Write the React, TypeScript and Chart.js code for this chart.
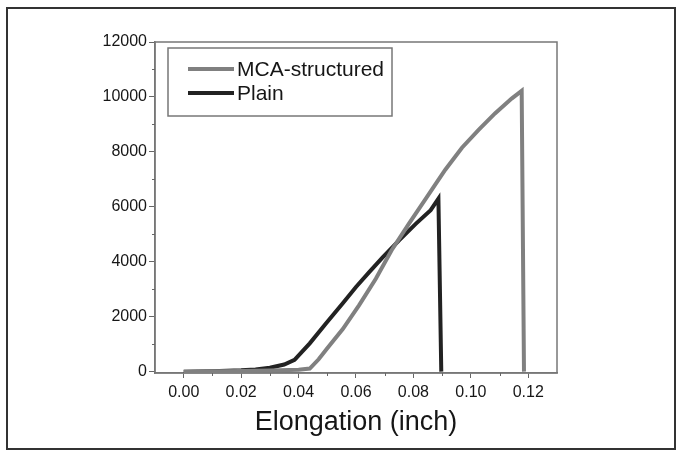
import React, { useEffect, useRef } from "react";
import { Chart, registerables } from "chart.js";

Chart.register(...registerables);

// ---- data ----
const seriesLabels = ["MCA-structured", "Plain"];

const mcaX = [0.0, 0.01, 0.02, 0.03, 0.04, 0.0439, 0.047, 0.05, 0.0554, 0.0611, 0.0669, 0.0724, 0.0785, 0.0842, 0.087, 0.0911, 0.0969, 0.1027, 0.1084, 0.1142, 0.1177, 0.1185];
const mcaY = [0, 10, 20, 40, 70, 110, 450, 850, 1550, 2420, 3380, 4420, 5400, 6280, 6720, 7350, 8150, 8800, 9400, 9940, 10220, 0];

const plainX = [0.0, 0.01, 0.02, 0.025, 0.03, 0.035, 0.0386, 0.0439, 0.0496, 0.0554, 0.06, 0.0646, 0.0692, 0.075, 0.0808, 0.086, 0.0887, 0.0897];
const plainY = [0, 15, 50, 80, 140, 260, 425, 1030, 1760, 2490, 3080, 3620, 4150, 4780, 5380, 5880, 6300, 0];

const xTicks = [0.0, 0.02, 0.04, 0.06, 0.08, 0.1, 0.12];
const xMinorTicks = [0.01, 0.03, 0.05, 0.07, 0.09, 0.11];
const yTicks = [0, 2000, 4000, 6000, 8000, 10000, 12000];
const yMinorTicks = [1000, 3000, 5000, 7000, 9000, 11000];

const xTitle = "Elongation (inch)";

const FONT = "'Liberation Sans', Arial, Helvetica, sans-serif";
const TEXT = "#161616";

const framePlugin = {
  id: "frameAndLegend",
  beforeDraw(chart: any) {
    const ctx = chart.ctx;
    ctx.save();
    ctx.fillStyle = "#ffffff";
    ctx.fillRect(0, 0, chart.width, chart.height);
    ctx.restore();
  },
  beforeDatasetsDraw(chart: any) {
    const { ctx, chartArea: a, scales } = chart;
    ctx.save();
    ctx.strokeStyle = "#777777";
    ctx.lineWidth = 1.5;
    ctx.strokeRect(a.left, a.top, a.right - a.left, a.bottom - a.top);
    // minor ticks
    ctx.lineWidth = 1;
    ctx.strokeStyle = "#666666";
    ctx.beginPath();
    yMinorTicks.forEach((v) => {
      const y = Math.round(scales.y.getPixelForValue(v)) + 0.5;
      ctx.moveTo(a.left, y);
      ctx.lineTo(a.left - 3, y);
    });
    xMinorTicks.forEach((v) => {
      const x = Math.round(scales.x.getPixelForValue(v)) + 0.5;
      ctx.moveTo(x, a.bottom);
      ctx.lineTo(x, a.bottom + 3);
    });
    ctx.stroke();
    ctx.restore();
  },
  afterDraw(chart: any) {
    const ctx = chart.ctx;
    ctx.save();
    // legend box
    const bx = 168, by = 48, bw = 224, bh = 68;
    ctx.strokeStyle = "#777777";
    ctx.lineWidth = 1.5;
    ctx.strokeRect(bx, by, bw, bh);
    chart.data.datasets.forEach((ds: any, i: number) => {
      const y = 69 + i * 24;
      ctx.strokeStyle = ds.borderColor;
      ctx.lineWidth = 4;
      ctx.beginPath();
      ctx.moveTo(188, y);
      ctx.lineTo(234, y);
      ctx.stroke();
      ctx.fillStyle = TEXT;
      ctx.font = `21px ${FONT}`;
      ctx.textBaseline = "middle";
      ctx.textAlign = "left";
      ctx.fillText(ds.label, 237, y + 1);
    });
    // outer frame
    ctx.strokeStyle = "#333333";
    ctx.lineWidth = 2;
    ctx.strokeRect(7, 8, 668, 441);
    ctx.restore();
  },
};

export default function App() {
  const ref = useRef<HTMLCanvasElement | null>(null);

  useEffect(() => {
    if (!ref.current) return;
    const chart = new Chart(ref.current, {
      type: "line",
      data: {
        datasets: [
          {
            label: seriesLabels[0],
            data: mcaX.map((x, i) => ({ x, y: mcaY[i] })),
            borderColor: "#808080",
            borderWidth: 4,
            pointRadius: 0,
            tension: 0,
            fill: false,
          },
          {
            label: seriesLabels[1],
            data: plainX.map((x, i) => ({ x, y: plainY[i] })),
            borderColor: "#222222",
            borderWidth: 4,
            pointRadius: 0,
            tension: 0,
            fill: false,
          },
        ],
      },
      options: {
        animation: false,
        responsive: false,
        devicePixelRatio: 1,
        layout: { padding: { left: 0, right: 123, top: 42, bottom: 0 } },
        plugins: {
          legend: { display: false },
          tooltip: { enabled: false },
          title: { display: false },
        },
        scales: {
          x: {
            type: "linear",
            min: -0.01,
            max: 0.13,
            afterFit: (s: any) => {
              s.height = 80;
            },
            afterBuildTicks: (s: any) => {
              s.ticks = xTicks.map((v) => ({ value: v }));
            },
            grid: {
              drawOnChartArea: false,
              drawTicks: true,
              tickLength: 5,
              color: "#666666",
            },
            border: { display: true, color: "#777777", width: 1.5 },
            ticks: {
              padding: 5,
              color: TEXT,
              font: { family: FONT, size: 16 },
              maxRotation: 0,
              autoSkip: false,
              callback: (v: any) => Number(v).toFixed(2),
            },
            title: {
              display: true,
              text: xTitle,
              color: TEXT,
              font: { family: FONT, size: 27 },
              padding: { top: 0, bottom: 14 },
            },
          },
          y: {
            type: "linear",
            min: -50,
            max: 12000,
            afterFit: (s: any) => {
              s.width = 155;
            },
            afterBuildTicks: (s: any) => {
              s.ticks = yTicks.map((v) => ({ value: v }));
            },
            grid: {
              drawOnChartArea: false,
              drawTicks: true,
              tickLength: 6,
              color: "#666666",
            },
            border: { display: true, color: "#777777", width: 1.5 },
            ticks: {
              padding: 2,
              color: TEXT,
              font: { family: FONT, size: 16 },
              autoSkip: false,
              callback: (v: any) => String(v),
            },
          },
        },
      },
      plugins: [framePlugin],
    });
    return () => chart.destroy();
  }, []);

  return (
    <div style={{ position: "absolute", left: 0, top: 0, width: 680, height: 453 }}>
      <canvas ref={ref} width={680} height={453} style={{ display: "block" }} />
    </div>
  );
}
